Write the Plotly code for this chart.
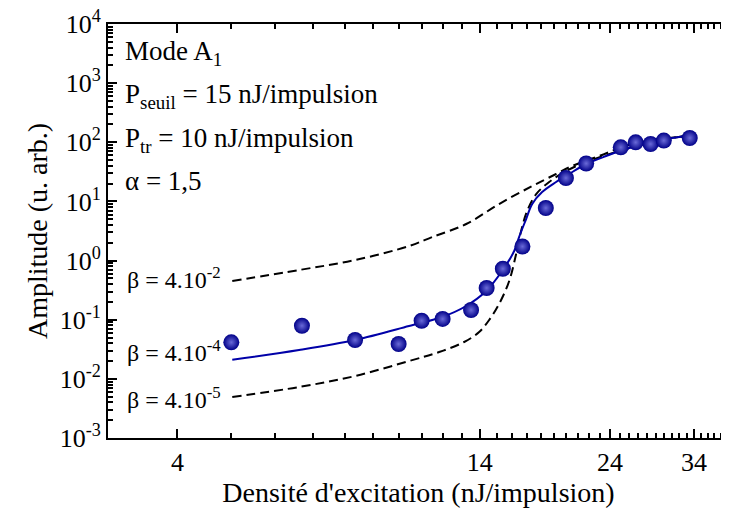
import plotly.graph_objects as go

# measured points (excitation density in nJ/pulse, amplitude in arb. units)
x_data = [5.0, 6.7, 8.35, 10.0, 11.0, 12.0, 13.5, 14.4, 15.4, 16.7,
          18.4, 20.0, 21.75, 25.1, 26.7, 28.4, 30.0, 33.4]
y_data = [0.0415, 0.079, 0.0454, 0.0388, 0.096, 0.103, 0.146, 0.344, 0.728, 1.73,
          7.74, 24.9, 43.8, 82.3, 100, 93.5, 107, 118]

# fit, beta = 4.10^-4 (solid)
x_fit = [5.02, 6.62, 8.35, 10.44, 11.97, 13.23, 14.37, 15.35, 16.14, 16.47,
         16.96, 17.39, 18.12, 19.2, 20.26, 21.75, 23.62, 25.66, 28.23, 31.05, 33.73]
y_fit = [0.0211, 0.0307, 0.0454, 0.0782, 0.111, 0.1706, 0.305, 0.665, 1.45, 2.5,
         5.04, 9.04, 14.4, 21.3, 29.1, 42.9, 58.6, 76.9, 97.2, 118, 133]

# beta = 4.10^-2 (dashed, upper)
x_b2 = [5.02, 6.62, 8.35, 10.44, 11.49, 13.23, 15.16, 17.39, 19.2, 20.52,
        22.95, 26.31, 33.3]
y_b2 = [0.451, 0.692, 1.02, 1.76, 2.5, 4.15, 9.04, 18.2, 29.1, 39.7,
        58.6, 93.5, 128]

# beta = 4.10^-5 (dashed, lower)
x_b5 = [5.02, 6.62, 8.35, 10.44, 11.83, 13.12, 13.96, 14.55, 15.16, 15.81,
        16.27, 16.61, 17.03, 17.68, 18.66, 20.02, 21.75, 25.66, 31.05, 33.73]
y_b5 = [0.00493, 0.00728, 0.01117, 0.02004, 0.0284, 0.042, 0.0619, 0.0988, 0.184, 0.451,
        1.29, 3.16, 6.89, 13.3, 21.3, 32.7, 46.4, 76.9, 118, 133]

x_ticks = [4, 14, 24, 34]
y_ticks = [1e-3, 1e-2, 1e-1, 1, 10, 100, 1000, 10000]
y_ticktext = ['10<sup>-3</sup>', '10<sup>-2</sup>', '10<sup>-1</sup>', '10<sup>0</sup>',
              '10<sup>1</sup>', '10<sup>2</sup>', '10<sup>3</sup>', '10<sup>4</sup>']

FONT = "Liberation Serif"

fig = go.Figure()
fig.add_trace(go.Scatter(x=x_b2, y=y_b2, mode='lines',
                         line=dict(color='black', width=2, dash='9px,5px', shape='spline')))
fig.add_trace(go.Scatter(x=x_b5, y=y_b5, mode='lines',
                         line=dict(color='black', width=2, dash='9px,5px', shape='spline')))
fig.add_trace(go.Scatter(x=x_fit, y=y_fit, mode='lines',
                         line=dict(color='#0000A8', width=2, shape='spline')))
fig.add_trace(go.Scatter(
    x=x_data, y=y_data, mode='markers',
    marker=dict(size=16, color='#000088',
                gradient=dict(type='radial', color='#6a6ad8'),
                line=dict(width=0)),
))

minor_x = [v for v in range(5, 40) if v not in x_ticks]
minor_y = [m * 10 ** e for e in range(-3, 4) for m in range(2, 10)]

# page body adds a small offset, margins compensate for it
fig.update_layout(
    width=729, height=514,
    margin=dict(l=100, r=8, t=16, b=84),
    paper_bgcolor='white', plot_bgcolor='white',
    showlegend=False,
    font=dict(family=FONT, size=26, color='black'),
)
fig.update_xaxes(
    type='log', range=[0.47712, 1.5944], automargin=False,
    tickmode='array', tickvals=x_ticks, ticktext=[str(v) for v in x_ticks],
    ticks='inside', ticklen=9, tickwidth=1.5, tickcolor='black',
    ticklabelstandoff=0, ticklabeloverflow='allow',
    showline=True, linecolor='black', linewidth=2, mirror='ticks',
    showgrid=False, zeroline=False,
    minor=dict(tickmode='array', tickvals=minor_x, ticks='inside', ticklen=5,
               tickwidth=1.5, tickcolor='black', showgrid=False),
    title=dict(text="Densité d'excitation (nJ/impulsion)", standoff=5,
               font=dict(family=FONT, size=28)),
    tickfont=dict(family=FONT, size=26),
)
fig.update_yaxes(
    type='log', range=[-3, 4], automargin=False,
    tickmode='array', tickvals=y_ticks, ticktext=y_ticktext,
    ticks='inside', ticklen=9, tickwidth=1.5, tickcolor='black',
    ticklabeloverflow='allow',
    showline=True, linecolor='black', linewidth=2,
    showgrid=False, zeroline=False,
    minor=dict(tickmode='array', tickvals=minor_y, ticks='inside', ticklen=5,
               tickwidth=1.5, tickcolor='black', showgrid=False),
    title=dict(text='Amplitude (u. arb.)', standoff=4,
               font=dict(family=FONT, size=28)),
    tickfont=dict(family=FONT, size=26),
)

# text block, upper left
info = [
    ('Mode A<sub>1</sub>', 0.930),
    ('P<sub>seuil</sub> = 15 nJ/impulsion', 0.827),
    ('P<sub>tr</sub> = 10 nJ/impulsion', 0.721),
    ('α = 1,5', 0.620),
]
for txt, yy in info:
    fig.add_annotation(x=0.024, y=yy, xref='paper', yref='paper', text=txt,
                       showarrow=False, xanchor='left', yanchor='middle',
                       font=dict(family=FONT, size=27, color='black'))

# curve labels
betas = [
    ('β = 4.10<sup>-2</sup>', 0.386),
    ('β = 4.10<sup>-4</sup>', 0.209),
    ('β = 4.10<sup>-5</sup>', 0.097),
]
for txt, yy in betas:
    fig.add_annotation(x=0.027, y=yy, xref='paper', yref='paper', text=txt,
                       showarrow=False, xanchor='left', yanchor='middle',
                       font=dict(family=FONT, size=24, color='black'))

fig.write_html('out.html')
